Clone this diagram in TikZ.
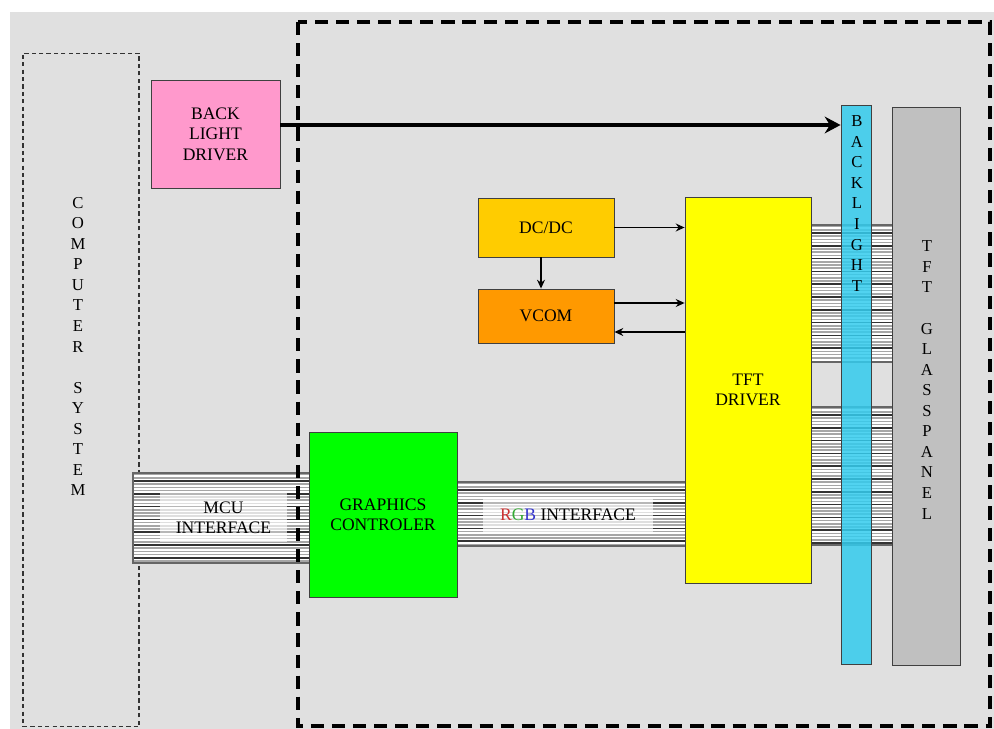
\documentclass[tikz,border=0pt]{standalone}
\usepackage{fontspec}
\setmainfont{Liberation Serif}
\usetikzlibrary{
arrows.meta,
positioning,
calc
}
\definecolor{tftbg}{RGB}{224,224,224}
\definecolor{tftpink}{HTML}{FF99CC}
\definecolor{tftamber}{HTML}{FFCC00}
\definecolor{tftorange}{HTML}{FF9900}
\definecolor{tftyellow}{HTML}{FFFF00}
\definecolor{tftgreen}{HTML}{00FF00}
\definecolor{tftcyan}{HTML}{33CCEE}
\definecolor{tftgray}{HTML}{C0C0C0}
\definecolor{tftred}{HTML}{CC3333}
\definecolor{tftgrn}{HTML}{33AA33}
\definecolor{tftblue}{HTML}{3333CC}

%% ribbon cable: #1,#2 = top left, #3,#4 = bottom right (px)
\newcommand{\ribbon}[4]{%
  \fill[white] (#1,#2) rectangle (#3,#4);
  \pgfmathtruncatemacro{\nlines}{(#4-#2)/3.2}
  \foreach \k in {1,...,\nlines}{
    \pgfmathsetmacro{\yy}{#2+3.2*\k-1.6}
    \draw[ribline] (#1,\yy) -- (#3,\yy);
  }
  \foreach \k in {3,7,...,\nlines}{
    \pgfmathsetmacro{\yy}{#2+3.2*\k-1.6}
    \draw[ribdark] (#1,\yy) -- (#3,\yy);
  }
  \draw[ribedge] (#1,#2) rectangle (#3,#4);
}

\begin{document}
\begin{tikzpicture}[
  x=0.02cm, y=-0.02cm,
  >={Stealth},
  every node/.style={font=\fontsize{10}{11.6}\selectfont, text=black},
  block/.style={draw=black!75, line width=0.5pt, align=center, inner sep=0pt},
  stack/.style={align=center, inner sep=0pt,
                font=\fontsize{9.5}{11.7}\selectfont},
  ribtag/.style={fill=white, fill opacity=0.65, text opacity=1,
                 align=center, inner sep=0pt},
  ribline/.style={gray!70, line width=0.8pt},
  ribdark/.style={black!80, line width=0.8pt},
  ribedge/.style={draw=black!60, line width=0.7pt},
  link/.style={->, line width=0.7pt, >={Stealth[length=5pt,width=4.5pt]}},
  bigarrow/.style={line width=2.3pt, -{Stealth[length=9pt,width=9.5pt]}},
  compbox/.style={draw=black!80, line width=0.6pt,
                  dash pattern=on 2.4pt off 1.8pt},
  modbox/.style={draw=black, line width=1.9pt,
                 dash pattern=on 7.5pt off 4.5pt}
]
\useasboundingbox (0,0) rectangle (994,729);

%% ── BACKGROUND ──────────────────────────────────────────────────
\fill[tftbg] (10,12) rectangle (994,729);

%% ── COMPUTER SYSTEM ─────────────────────────────────────────────
\node[compbox, minimum width=2.32cm, minimum height=13.48cm]
  (comp) at (81,390) {};
\node[stack] (comptext) at (78,346.5)
  {C\\O\\M\\P\\U\\T\\E\\R\\[11.7pt]S\\Y\\S\\T\\E\\M};

%% ── RIBBON CABLES ───────────────────────────────────────────────
\ribbon{133}{473}{310}{563}
\ribbon{457}{482}{688}{546}
\ribbon{808}{225}{893}{362}
\ribbon{807}{407}{895}{545}

%% ── MODULE (dashed) ─────────────────────────────────────────────
\draw[modbox] (298,22) rectangle (990,726);

%% ── BLOCKS ──────────────────────────────────────────────────────
\node[block, fill=tftpink, minimum width=2.58cm, minimum height=2.16cm]
  (bld) at (215.5,134) {BACK\\LIGHT\\DRIVER};
\node[block, fill=tftamber, minimum width=2.72cm, minimum height=1.18cm]
  (dcdc) at (546,227.5) {DC/DC};
\node[block, fill=tftorange, minimum width=2.72cm, minimum height=1.08cm]
  (vcom) at (546,316) {VCOM};
\node[block, fill=tftyellow, minimum width=2.52cm, minimum height=7.72cm]
  (tftdrv) at (748,390) {TFT\\DRIVER};
\node[block, fill=tftgreen, minimum width=2.96cm, minimum height=3.3cm]
  (gfx) at (383,514.5) {GRAPHICS\\CONTROLER};
\node[block, fill=tftgray, minimum width=1.36cm, minimum height=11.16cm]
  (glass) at (926,386) {};
\node[block, fill=tftcyan, fill opacity=0.85,
      minimum width=0.6cm, minimum height=11.18cm]
  (blight) at (856,384.5) {};

%% letters down the panels
\node[stack] (blighttext) at (857,203.5)
  {B\\A\\C\\K\\L\\I\\G\\H\\T};
\node[stack] (glasstext) at (927,380)
  {T\\F\\T\\[11.7pt]G\\L\\A\\S\\S\\P\\A\\N\\E\\L};

%% ── RIBBON LABELS ───────────────────────────────────────────────
\node[ribtag, minimum width=2.54cm, minimum height=0.98cm]
  (mcu) at (223.5,517.5) {MCU\\INTERFACE};
\node[ribtag, minimum width=3.4cm, minimum height=0.7cm]
  (rgb) at (568,514.5)
  {\textcolor{tftred}{R}\textcolor{tftgrn}{G}\textcolor{tftblue}{B}
   INTERFACE};

%% ── CONNECTORS ──────────────────────────────────────────────────
\draw[bigarrow] ([yshift=0.18cm]bld.east)
  -- ([yshift=0.18cm]bld.east -| blight.west);
\draw[link] (dcdc.east) -- (dcdc.east -| tftdrv.west);
\draw[link] ([xshift=-0.1cm]dcdc.south) -- ([xshift=-0.1cm]vcom.north);
\draw[link] ([yshift=0.26cm]vcom.east)
  -- ([yshift=0.26cm]vcom.east -| tftdrv.west);
\draw[link] ([yshift=-0.32cm]vcom.east -| tftdrv.west)
  -- ([yshift=-0.32cm]vcom.east);

\end{tikzpicture}
\end{document}
